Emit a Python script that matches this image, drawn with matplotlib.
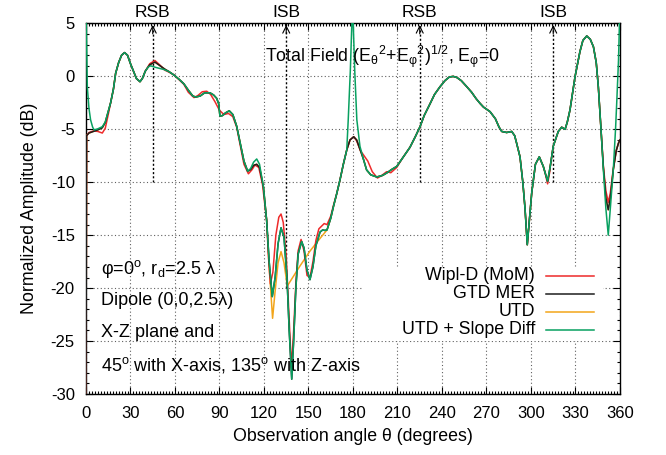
import numpy as np
import matplotlib
matplotlib.use('Agg')
import matplotlib.pyplot as plt
import matplotlib.transforms as mtransforms
from matplotlib.ticker import MultipleLocator
from matplotlib.patches import Rectangle

plt.rcParams['font.family'] = ['Liberation Sans', 'DejaVu Sans']
plt.rcParams['mathtext.fontset'] = 'custom'
plt.rcParams['mathtext.rm'] = 'Liberation Sans'
plt.rcParams['mathtext.it'] = 'Liberation Sans'
plt.rcParams['axes.unicode_minus'] = False

# UTD + Slope Diff (the reference curve, the others are spliced from it)
green_theta = [0, 0.9, 2, 3.1, 4.5, 5.5, 8, 11, 13, 15, 16.6, 18.5, 20, 22, 24, 26, 28, 30, 32, 34,
               36.4, 38, 40, 42, 43.6, 47, 52.6, 56, 59.3, 63, 66, 69, 72, 74, 77, 80, 83.6, 86,
               88.1, 89.5, 90.3, 92, 94, 96.6, 99, 101.6, 104, 106.5, 109, 111, 113, 115.1, 117,
               119.6, 121.8, 123.5, 125.6, 127.5, 129.5, 131.5, 133.5, 135.5, 137, 138.7, 140,
               141.5, 143, 145.4, 147, 149, 151, 153, 155, 157.8, 159.6, 161, 162.5, 165, 167, 169,
               171.2, 173.5, 175.8, 176.8, 178.2, 179.7, 181.2, 182.6, 184.7, 187, 189.2, 192, 196,
               200, 203, 206, 209.5, 213, 218.4, 222, 225.2, 228, 231.9, 235, 238.7, 242, 245,
               247.6, 250, 253, 256.7, 260, 263, 265.6, 268, 272.4, 276, 278.5, 280.3, 283.6, 287,
               289, 290.3, 292.6, 294.5, 296, 297.5, 299, 300.5, 301.6, 303, 305.6, 308.3, 311.2,
               313, 315, 318.4, 320.7, 323, 324.5, 326.3, 329.7, 333, 335, 337.6, 340, 342.1, 344,
               345.4, 347, 348.8, 350.5, 352.1, 353.5, 355.5, 357, 357.8, 359, 360]
green_db = [7, -1.0, -3.0, -4.1, -4.8, -5.05, -4.95, -4.75, -4.3, -3.3, -2.5, -1.2, 0.3, 1.3, 2.0, 2.25, 2.0, 1.2, 0.5, -0.2,
            -0.5, -0.2, 0.5, 0.9, 1.0, 0.85, 0.65, 0.45, 0.13, -0.3, -0.7, -1.3, -1.85, -1.95, -1.85, -1.55, -1.55, -1.75,
            -2.07, -2.6, -3.75, -3.7, -3.45, -3.25, -3.6, -4.7, -6.3, -8.0, -8.95, -8.7, -8.1, -7.8, -8.3,
            -10.4, -13.6, -17.5, -20.8, -19.0, -15.8, -14.3, -15.2, -19.0, -24.0, -28.6, -25.0,
            -20.0, -16.8, -15.6, -16.2, -18.3, -19.2, -18.0, -16.0, -14.7, -14.5, -14.55, -14.5, -13.4, -12.2, -11.1,
            -9.8, -8.3, -6.95, -4.1, 0.5, 7, 0.5, -4.1, -6.6, -7.8, -8.84, -9.3, -9.5,
            -9.35, -9.1, -8.8, -8.5, -7.8, -6.7, -5.7, -4.75, -3.7, -2.6, -1.7, -0.97, -0.4, -0.05,
            0.0, -0.1, -0.4, -0.97, -1.5, -2.1, -2.54, -2.9, -3.33, -4.0, -4.8, -5.2, -5.3, -5.2,
            -5.6, -6.3, -7.6, -10.0, -12.5, -15.9, -13.5, -11.0, -9.8, -8.3, -7.6, -8.5, -9.9,
            -8.5, -6.6, -5.2, -4.8, -5.0, -4.3, -3.17, -0.03, 2.34, 3.4, 3.82, 3.5, 2.8, 1.3,
            -0.97, -4.5, -8.84, -12.5, -15.0, -12.5, -8.8, -5.0, -2.5, 1.5, 7]

# GTD MER deviations
black_seg_t = [[0, 0.4, 2, 5, 8, 11, 13],
               [40, 43, 46.5, 50, 53],
               [111, 113, 115.1, 117, 119.6],
               [173.5, 175.8, 178, 180.5, 182.5, 185, 187],
               [345.4, 347, 348.8, 350.5, 352.1, 353.5, 355.5, 357.5, 359, 360]]
black_seg_db = [[-31, -5.6, -5.35, -5.2, -5.05, -4.85, -4.35],
                [0.5, 1.1, 1.35, 1.0, 0.7],
                [-8.8, -8.4, -8.3, -8.6, -10.4],
                [-8.3, -6.95, -6.0, -5.7, -6.0, -7.0, -7.8],
                [-0.97, -4.5, -8.6, -11.5, -12.6, -11.5, -8.8, -7.0, -6.3, -6.0]]

# UTD deviations from GTD MER
orange_seg_t = [[121.8, 123.5, 125.8, 127.5, 129.5, 131.5, 133.5, 135.7, 144.3, 151, 157.8, 162.5]]
orange_seg_db = [[-13.6, -18.0, -22.85, -20.3, -17.6, -16.55, -17.6, -19.8, -17.9, -16.5, -15.3, -14.5]]

# Wipl-D (MoM) deviations
red_seg_t = [[0, 0.4, 2, 5, 8, 11, 13, 15],
             [40, 43, 46.5, 50, 53, 56, 59.3, 63, 66, 69, 72.8, 75.5, 78.4, 81.4, 84, 87, 90, 93, 96,
              99, 101.6, 104, 106.5, 109.5, 112, 113.9, 116.5, 119, 121.8, 123, 124.3, 126, 128, 130,
              131.5, 133, 135, 137, 138.5, 140, 141.5, 143, 145, 147, 149, 151, 153, 155, 157,
              160.6, 162.5, 165, 167],
             [173.5, 175.8, 178, 180.5, 182.5, 185, 187, 190, 193, 196.5, 199, 202.7, 205.5, 209.5],
             [309.5, 311.2, 312.8],
             [345.4, 347, 348.8, 350.5, 352.1, 353.5, 355.5, 357.5, 359, 360]]
red_seg_db = [[-31, -5.6, -5.3, -5.15, -5.2, -5.35, -4.9, -3.6],
              [0.5, 1.2, 1.5, 1.05, 0.6, 0.4, 0.15, -0.35, -0.75, -1.5, -2.0, -1.8, -1.45, -1.4, -1.7, -2.4, -3.2, -3.6, -3.5,
               -3.8, -4.8, -6.5, -8.3, -9.2, -8.8, -8.37, -8.6, -10.2, -13.6, -17.0, -19.6, -18.5, -15.0, -13.3,
               -13.0, -13.8, -17.0, -23.0, -27.5, -24.0, -19.5, -16.5, -15.4, -16.5, -18.8, -19.0, -17.5, -15.5, -14.4,
               -13.9, -14.0, -13.2, -12.1],
              [-8.3, -6.95, -6.0, -5.7, -6.1, -7.0, -7.4, -8.0, -9.0, -9.6, -9.4, -9.0, -9.1, -8.6],
              [-9.1, -10.15, -8.9],
              [-0.97, -4.5, -8.5, -10.8, -11.9, -11.0, -8.7, -7.0, -6.3, -6.0]]

names = ['Wipl-D (MoM)', 'GTD MER', 'UTD', 'UTD + Slope Diff']
colors = ['#ee2a2a', '#1e1e1e', '#f2a51a', '#08a060']

sb_angles = [45, 135, 225, 315]
sb_labels = ['RSB', 'ISB', 'RSB', 'ISB']
sb_bottom = [-10, -20, -10, -10]


def splice(base_t, base_v, segs_t, segs_v):
    pts = list(zip(base_t, base_v))
    for st, sv in zip(segs_t, segs_v):
        pts = [p for p in pts if p[0] < st[0] or p[0] > st[-1]] + list(zip(st, sv))
        pts.sort()
    return np.array([p[0] for p in pts]), np.array([p[1] for p in pts])


green = (np.array(green_theta), np.array(green_db))
black = splice(green_theta, green_db, black_seg_t, black_seg_db)
orange = splice(black[0], black[1], orange_seg_t, orange_seg_db)
red = splice(green_theta, green_db, red_seg_t, red_seg_db)
curves = [red, black, orange, green]

fig = plt.figure(figsize=(6.66, 4.55), dpi=100)
ax = fig.add_axes([0.1291, 0.1341, 0.8018, 0.8143])
ax.set_axisbelow(True)

# orange first so red/black show along the left edge, green on top
for k in [2, 0, 1, 3]:
    t, v = curves[k]
    ax.plot(t, v, color=colors[k], lw=1.1, zorder=3)

ax.set_xlim(0, 360)
ax.set_ylim(-30, 5)
ax.set_xticks(np.arange(0, 361, 30))
ax.set_yticks(np.arange(-30, 6, 5))
ax.xaxis.set_minor_locator(MultipleLocator(2))
ax.yaxis.set_minor_locator(MultipleLocator(1))
ax.tick_params(which='both', direction='in', top=True, right=True, labelsize=12, width=0.8)
ax.tick_params(which='major', length=5)
ax.tick_params(which='minor', length=2.5)
ax.tick_params(axis='x', pad=8.5)
ax.tick_params(axis='y', pad=8)
ax.grid(True, which='major', color='#606060', linestyle=(0, (1, 2.2)), linewidth=0.8)
for s in ax.spines.values():
    s.set_linewidth(1.0)

ax.set_xlabel('Observation angle θ (degrees)', fontsize=12.8)
ax.set_ylabel('Normalized Amplitude (dB)', fontsize=12.8)
ax.xaxis.set_label_coords(0.5, -0.093)
ax.yaxis.set_label_coords(-0.09, 0.5)

# shadow boundaries
trans = mtransforms.blended_transform_factory(ax.transData, ax.transAxes)
for a, lab, b in zip(sb_angles, sb_labels, sb_bottom):
    ax.vlines(a, b, 5, colors='k', linestyles=(0, (1.5, 1.5)), linewidth=1.0, zorder=2)
    ax.text(a, 1.017, lab, transform=trans, ha='center', va='baseline', fontsize=12.5)
    ax.annotate('', xy=(a, 0.996), xytext=(a, 0.972), xycoords=trans, textcoords=trans,
                arrowprops=dict(arrowstyle='->,head_length=0.5,head_width=0.25', lw=0.8,
                                color='k', shrinkA=0, shrinkB=0))

ax.text(120.7, 1.39, r'Total Field (E$_\theta$$^2$+E$_\varphi$$^2$)$^{1/2}$, E$_\varphi$=0',
        fontsize=12.8, va='baseline', ha='left', zorder=4)
ax.text(9.8, -18.66, r'φ=0$^{o}$, r$_{d}$=2.5 λ', fontsize=13, va='baseline', zorder=4)
ax.text(9.8, -21.59, 'Dipole (0,0,2.5λ)', fontsize=13, va='baseline', zorder=4)
ax.text(9.8, -24.59, 'X-Z plane and', fontsize=13, va='baseline', zorder=4)
ax.text(9.8, -27.8, r'45$^{o}$ with X-axis, 135$^{o}$ with Z-axis', fontsize=13, va='baseline', zorder=4)

# legend, gnuplot style: text right aligned, sample to the right
ax.add_patch(Rectangle((0.519, 0.1431), 0.449, 0.1997, transform=ax.transAxes,
                       facecolor='white', edgecolor='none', zorder=1))
for i, (n, c) in enumerate(zip(names, colors)):
    y = 0.3185 - i * 0.0486
    ax.text(0.8408, y, n, transform=ax.transAxes, ha='right', va='center', fontsize=12.8, zorder=4)
    ax.plot([0.8609, 0.9513], [y, y], transform=ax.transAxes, color=c, lw=1.1, zorder=4)

fig.savefig('out.png', dpi=100)
